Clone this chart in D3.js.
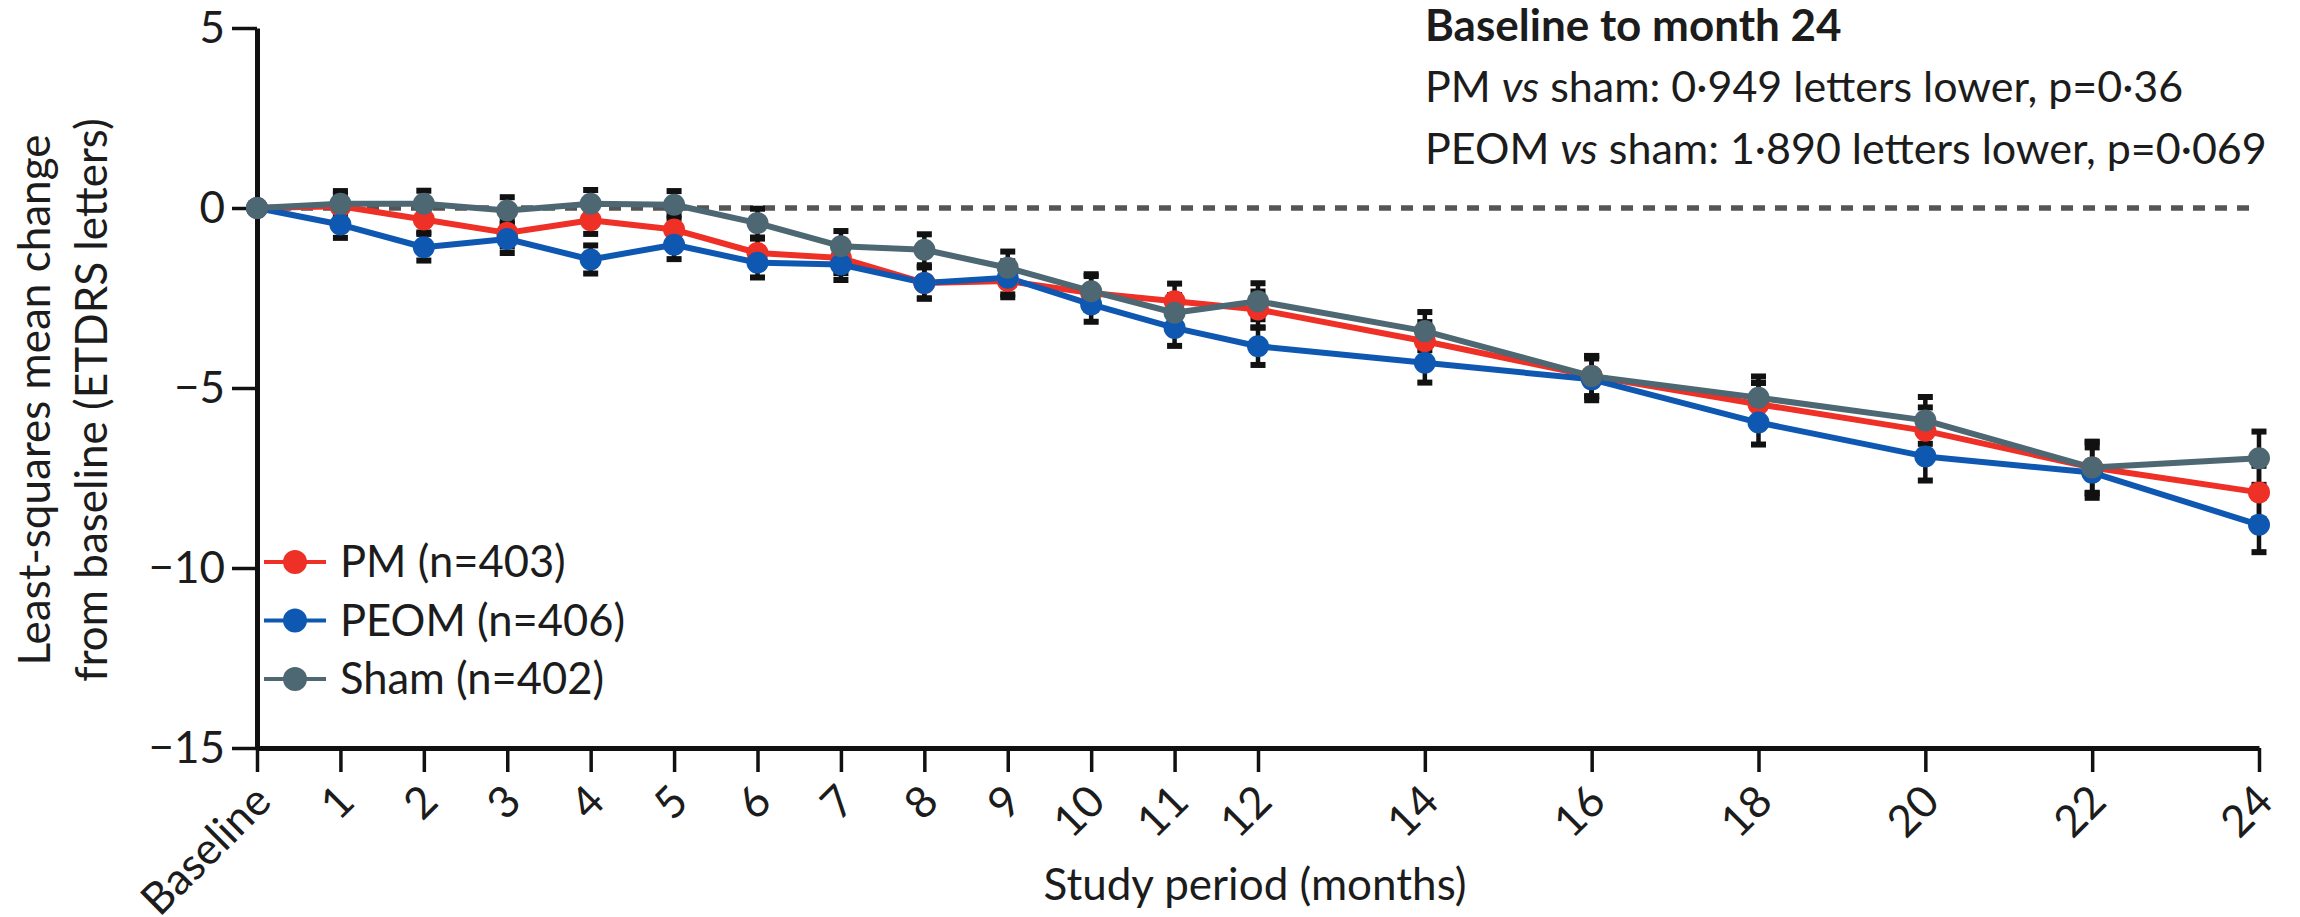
<!DOCTYPE html>
<html>
<head>
<meta charset="utf-8">
<script src="https://cdn.jsdelivr.net/npm/d3@7/dist/d3.min.js"></script>
<style>
	body { margin: 0; background: #fff; }
	svg text { font-family: Lato, 'Open Sans', sans-serif; fill: #1c1c1c; }
</style>
</head>
<body>
<div id="chart"></div>
<script>
'use strict'

// study visits (months) and their tick labels
var MONTHS = [0, 1, 2, 3, 4, 5, 6, 7, 8, 9, 10, 11, 12, 14, 16, 18, 20, 22, 24];
var TICK_LABELS = ['Baseline', '1', '2', '3', '4', '5', '6', '7', '8', '9', '10', '11', '12', '14', '16', '18', '20', '22', '24'];
var Y_TICKS = [5, 0, -5, -10, -15];

// least-squares mean change from baseline (ETDRS letters)
var PM_MEAN = [0, 0.05, -0.32, -0.69, -0.34, -0.60, -1.25, -1.39, -2.08, -2.03, -2.36, -2.59, -2.82, -3.70, -4.67, -5.45, -6.19, -7.21, -7.90];
var PEOM_MEAN = [0, -0.46, -1.09, -0.86, -1.43, -1.02, -1.52, -1.57, -2.08, -1.94, -2.68, -3.33, -3.84, -4.30, -4.76, -5.96, -6.90, -7.35, -8.80];
var SHAM_MEAN = [0, 0.12, 0.12, -0.07, 0.12, 0.09, -0.42, -1.06, -1.16, -1.66, -2.31, -2.91, -2.59, -3.42, -4.67, -5.27, -5.90, -7.21, -6.95];

// half-length of the error bars
var PM_ERR = [0, 0.35, 0.36, 0.38, 0.38, 0.39, 0.40, 0.42, 0.43, 0.45, 0.47, 0.49, 0.50, 0.53, 0.56, 0.59, 0.65, 0.70, 0.74];
var PEOM_ERR = [0, 0.37, 0.37, 0.39, 0.39, 0.40, 0.41, 0.43, 0.44, 0.46, 0.48, 0.50, 0.52, 0.55, 0.58, 0.61, 0.67, 0.70, 0.76];
var SHAM_ERR = [0, 0.35, 0.36, 0.37, 0.38, 0.38, 0.40, 0.42, 0.43, 0.45, 0.47, 0.49, 0.50, 0.53, 0.56, 0.59, 0.65, 0.72, 0.74];

var SERIES_NAMES = ['PM (n=403)', 'PEOM (n=406)', 'Sham (n=402)'];

var NOTE_TITLE = 'Baseline to month 24';
var NOTE_LINES = [
	['PM ', 'vs', ' sham: 0·949 letters lower, p=0·36'],
	['PEOM ', 'vs', ' sham: 1·890 letters lower, p=0·069']
];

var COLORS = ['#ee3026', '#0f58b2', '#4d6872'];

var app = {
	init: function() {
		this.width = 2300;
		this.height = 917;
		this.fontSize = 44;

		this.svg = d3.select('#chart')
			.append('svg')
			.attr('width', app.width)
			.attr('height', app.height);

		this.x = d3.scaleLinear()
			.domain([0, 24])
			.range([257, 2259]);

		this.y = d3.scaleLinear()
			.domain([-15, 5])
			.range([748, 28]);

		app.series = [
			{ name: SERIES_NAMES[0], mean: PM_MEAN, err: PM_ERR, color: COLORS[0] },
			{ name: SERIES_NAMES[1], mean: PEOM_MEAN, err: PEOM_ERR, color: COLORS[1] },
			{ name: SERIES_NAMES[2], mean: SHAM_MEAN, err: SHAM_ERR, color: COLORS[2] }
		];

		app.drawAxes();
		app.drawSeries();
		app.drawLegend();
		app.drawNotes();
	},

	drawAxes: function() {
		var svg = app.svg;

		// dashed reference line at zero
		svg.append('line')
			.attr('x1', app.x(0))
			.attr('x2', app.x(24))
			.attr('y1', app.y(0))
			.attr('y2', app.y(0))
			.attr('stroke', '#555')
			.attr('stroke-width', 5.5)
			.attr('stroke-dasharray', '12,10');

		var yAxis = d3.axisLeft(app.y)
			.tickValues(Y_TICKS)
			.tickSize(25)
			.tickSizeOuter(0)
			.tickPadding(7);

		var gy = svg.append('g')
			.attr('transform', 'translate(' + app.x(0) + ',0)')
			.call(yAxis);

		var xAxis = d3.axisBottom(app.x)
			.tickValues(MONTHS)
			.tickSize(24)
			.tickSizeOuter(0)
			.tickFormat(function(d, i) { return TICK_LABELS[i]; });

		var gx = svg.append('g')
			.attr('transform', 'translate(0,' + app.y(-15) + ')')
			.call(xAxis);

		[gx, gy].forEach(function(g) {
			g.select('.domain').attr('stroke', '#111').attr('stroke-width', 5);
			g.selectAll('.tick line').attr('stroke', '#111').attr('stroke-width', 3.5);
			g.selectAll('.tick text')
				.style('font-family', 'Lato, sans-serif')
				.style('font-size', app.fontSize + 'px')
				.attr('fill', '#1c1c1c');
		});

		gx.selectAll('.tick text')
			.attr('x', 0)
			.attr('y', 0)
			.attr('dy', '0.35em')
			.attr('text-anchor', 'end')
			.attr('transform', 'translate(5,45) rotate(-45)');

		// axis titles
		svg.append('text')
			.attr('x', (app.x(0) + app.x(24)) / 2 - 3)
			.attr('y', 900)
			.attr('text-anchor', 'middle')
			.style('font-size', app.fontSize + 'px')
			.text('Study period (months)');

		var ylab = svg.append('text')
			.attr('transform', 'translate(50,400) rotate(-90)')
			.attr('text-anchor', 'middle')
			.style('font-size', app.fontSize + 'px');

		ylab.append('tspan')
			.attr('x', 0)
			.attr('dy', 0)
			.text('Least-squares mean change');

		ylab.append('tspan')
			.attr('x', 0)
			.attr('dy', 57)
			.text('from baseline (ETDRS letters)');
	},

	drawSeries: function() {
		var svg = app.svg;

		var line = d3.line()
			.x(function(d) { return app.x(d.m); })
			.y(function(d) { return app.y(d.v); });

		var points = app.series.map(function(s) {
			return MONTHS.map(function(m, i) {
				return { m: m, v: s.mean[i], e: s.err[i] };
			});
		});

		app.series.forEach(function(s, k) {
			svg.append('path')
				.datum(points[k])
				.attr('d', line)
				.attr('fill', 'none')
				.attr('stroke', s.color)
				.attr('stroke-width', 6)
				.attr('stroke-linejoin', 'round');
		});

		// error bars above the lines, below the markers
		app.series.forEach(function(s, k) {
			var bars = svg.append('g').selectAll('g')
				.data(points[k].filter(function(d) { return d.e > 0; }))
				.enter().append('g');

			bars.append('line')
				.attr('x1', function(d) { return app.x(d.m); })
				.attr('x2', function(d) { return app.x(d.m); })
				.attr('y1', function(d) { return app.y(d.v + d.e); })
				.attr('y2', function(d) { return app.y(d.v - d.e); })
				.attr('stroke', '#111')
				.attr('stroke-width', 4.5);

			[1, -1].forEach(function(sign) {
				bars.append('rect')
					.attr('x', function(d) { return app.x(d.m) - 7.5; })
					.attr('y', function(d) { return app.y(d.v + sign * d.e) - 3; })
					.attr('width', 15)
					.attr('height', 6)
					.attr('fill', '#111');
			});
		});

		app.series.forEach(function(s, k) {
			svg.append('g').selectAll('circle')
				.data(points[k])
				.enter().append('circle')
				.attr('cx', function(d) { return app.x(d.m); })
				.attr('cy', function(d) { return app.y(d.v); })
				.attr('r', 11)
				.attr('fill', s.color);
		});
	},

	drawLegend: function() {
		var legend = app.svg.append('g')
			.attr('transform', 'translate(264,562)');

		var rows = legend.selectAll('g')
			.data(app.series)
			.enter().append('g')
			.attr('transform', function(d, i) { return 'translate(0,' + (i * 58.5) + ')'; });

		rows.append('line')
			.attr('x1', 0)
			.attr('x2', 62)
			.attr('stroke', function(d) { return d.color; })
			.attr('stroke-width', 4);

		rows.append('circle')
			.attr('cx', 31)
			.attr('r', 12)
			.attr('fill', function(d) { return d.color; });

		rows.append('text')
			.attr('x', 76)
			.attr('dy', '0.35em')
			.style('font-size', (app.fontSize - 0.5) + 'px')
			.text(function(d) { return d.name; });
	},

	drawNotes: function() {
		var notes = app.svg.append('g')
			.attr('transform', 'translate(1425,0)');

		notes.append('text')
			.attr('y', 41)
			.style('font-size', app.fontSize + 'px')
			.style('font-weight', 'bold')
			.text(NOTE_TITLE);

		NOTE_LINES.forEach(function(parts, i) {
			var t = notes.append('text')
				.attr('y', 102 + i * 62)
				.style('font-size', (app.fontSize - 1) + 'px');

			parts.forEach(function(p, j) {
				t.append('tspan')
					.style('font-style', j === 1 ? 'italic' : 'normal')
					.text(p);
			});
		});
	}
};

app.init();
</script>
</body>
</html>
